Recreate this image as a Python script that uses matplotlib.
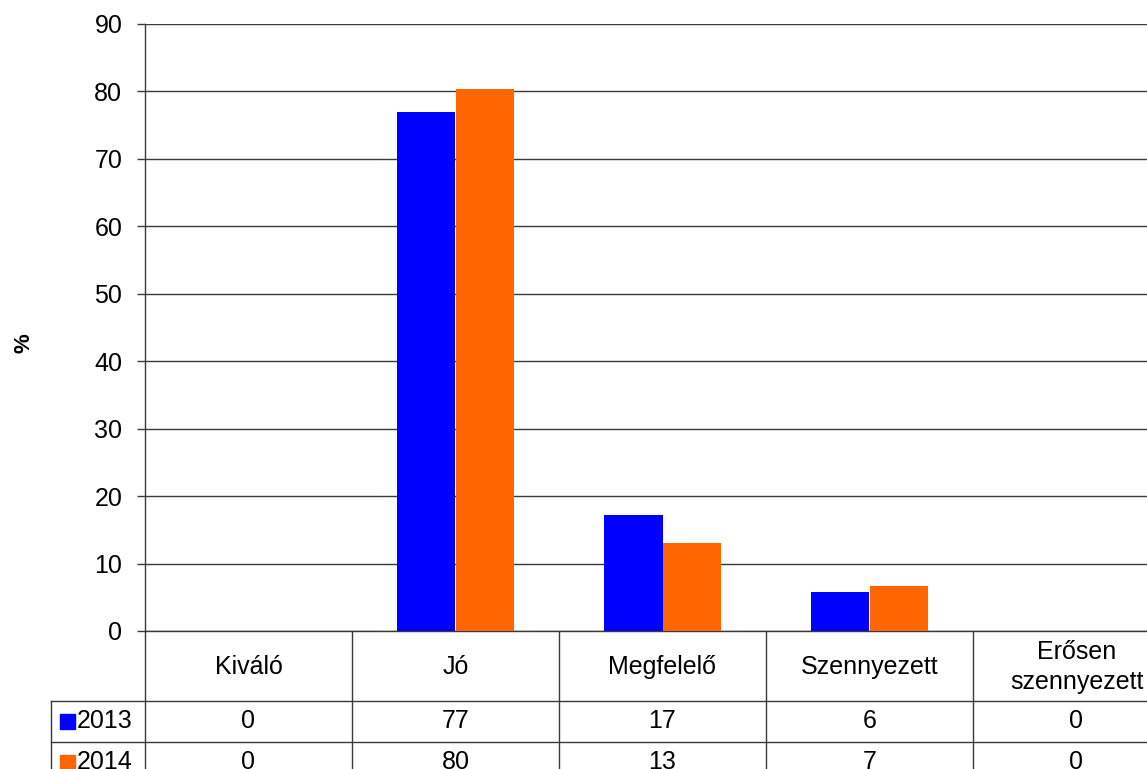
import matplotlib
matplotlib.use('Agg')
import matplotlib.pyplot as plt
import matplotlib.transforms as mtransforms
from matplotlib.patches import Rectangle

categories = ['Kiváló', 'Jó', 'Megfelelő', 'Szennyezett', 'Erősen\nszennyezett']
series_names = ['2013', '2014']
values_2013 = [0, 77.0, 17.2, 5.85, 0]
values_2014 = [0, 80.3, 13.0, 6.6, 0]
table_2013 = [0, 77, 17, 6, 0]
table_2014 = [0, 80, 13, 7, 0]
colors = ['#0000FF', '#FF6600']
yticks = list(range(0, 91, 10))

plt.rcParams['font.family'] = ['Liberation Sans', 'DejaVu Sans']

W, H = 1147, 769
fig = plt.figure(figsize=(W / 100, H / 100), dpi=100)

# full-figure pixel axes for the data table
ax_t = fig.add_axes([0, 0, 1, 1])
ax_t.set_xlim(0, W)
ax_t.set_ylim(H, 0)
ax_t.axis('off')

x0, x1 = 145, 1180
ytop, ybot = 24, 631
ax = fig.add_axes([x0 / W, (H - ybot) / H, (x1 - x0) / W, (ybot - ytop) / H])
n = len(categories)
bw = 0.283
idx = list(range(n))
ax.bar([i - bw / 2 for i in idx], values_2013, bw, color=colors[0], zorder=3)
ax.bar([i + bw / 2 for i in idx], values_2014, bw, color=colors[1], zorder=3)
ax.set_xlim(-0.5, n - 0.5)
ax.set_ylim(0, 90)
ax.set_yticks(yticks)
ax.yaxis.grid(True, color='#3a3a3a', lw=1)
ax.set_axisbelow(True)
ax.set_xticks([])
for s in ['top', 'right']:
    ax.spines[s].set_visible(False)
for s in ['left', 'bottom']:
    ax.spines[s].set_color('#3a3a3a')
    ax.spines[s].set_linewidth(1)
fs = 18
ax.tick_params(axis='y', length=5.8, width=1, color='#3a3a3a', labelsize=fs, pad=10.5)
ax.set_ylabel('%', fontsize=16, fontweight='bold')
ax.yaxis.set_label_coords((35 - x0) / (x1 - x0), (ybot - 343) / (ybot - ytop))

# data table
lc = '#3a3a3a'
trans = mtransforms.blended_transform_factory(ax.transData, ax_t.transData)
row_y = [701, 741.5]
bottom = 790
for yy in row_y:
    ax_t.plot([51, x1], [yy, yy], color=lc, lw=1, clip_on=False)
ax_t.plot([51, 51], [row_y[0], bottom], color=lc, lw=1, clip_on=False)
for i in range(n + 1):
    ax_t.plot([i - 0.5, i - 0.5], [ybot, bottom], color=lc, lw=1, transform=trans, clip_on=False)

for i, c in enumerate(categories):
    ax_t.text(i, (ybot + row_y[0]) / 2 + 1, c, ha='center', va='center', fontsize=fs,
              linespacing=1.3, transform=trans)

rows = [table_2013, table_2014]
centers = [(row_y[0] + row_y[1]) / 2, row_y[1] + 20.5]
for r, (vals, cy) in enumerate(zip(rows, centers)):
    for i, v in enumerate(vals):
        ax_t.text(i, cy, f'{v:d}', ha='center', va='center', fontsize=fs, transform=trans)
    ax_t.add_patch(Rectangle((60, cy - 7.5), 14.5, 15, color=colors[r]))
    ax_t.text(77, cy, series_names[r], ha='left', va='center', fontsize=fs)

fig.savefig('out.png', dpi=100, facecolor='white')
